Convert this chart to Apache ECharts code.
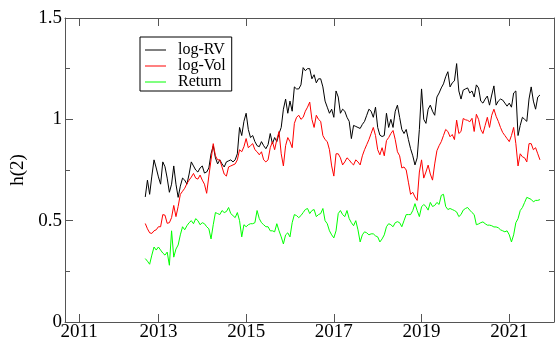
<!DOCTYPE html>
<html><head><meta charset="utf-8">
<script src="https://cdn.jsdelivr.net/npm/echarts@6/dist/echarts.min.js"></script>
<style>html,body{margin:0;padding:0;background:#fff}#c{width:555px;height:340px}</style>
</head><body><div id="c"></div>
<script>
// time axis: decimal years, first observation and spacing
const startYear = 2012.70;
const stepYear = 0.05;

const logRV = [
0.617,0.70,0.63,0.72,0.80,0.76,0.716,0.68,0.79,0.766,
0.71,0.64,0.68,0.77,0.68,0.615,0.67,0.71,0.70,0.68,
0.73,0.79,0.77,0.75,0.74,0.76,0.77,0.735,0.74,0.76,
0.83,0.87,0.81,0.78,0.80,0.78,0.765,0.79,0.795,0.80,
0.79,0.80,0.83,0.96,0.92,0.99,1.03,0.95,0.91,0.92,
0.89,0.87,0.865,0.89,0.87,0.855,0.875,0.93,0.88,0.91,
0.89,0.93,0.96,1.05,1.10,1.03,1.09,1.04,1.16,1.15,
1.15,1.17,1.255,1.24,1.25,1.25,1.20,1.22,1.18,1.20,
1.20,1.16,1.09,1.06,1.03,1.05,1.01,1.14,1.11,1.03,
1.05,1.04,1.01,0.99,0.905,0.97,0.965,0.96,0.955,0.975,
0.99,1.02,1.05,1.04,1.01,1.06,0.96,0.922,0.915,0.92,
1.03,0.96,1.00,0.96,1.04,1.07,1.01,0.95,0.93,0.95,
0.90,0.855,0.82,0.775,0.81,0.95,1.15,1.00,0.98,1.05,
1.07,1.04,1.02,1.11,1.13,1.155,1.175,1.21,1.235,1.16,
1.18,1.19,1.275,1.14,1.10,1.144,1.15,1.155,1.13,1.14,
1.11,1.17,1.155,1.09,1.08,1.10,1.115,1.07,1.12,1.165,
1.07,1.09,1.10,1.095,1.08,1.065,1.08,1.06,1.13,1.14,
0.92,0.97,1.01,1.00,0.99,1.10,1.16,1.09,1.05,1.11,1.12
];

const logVol = [
0.486,0.46,0.44,0.437,0.45,0.455,0.47,0.47,0.53,0.527,
0.487,0.49,0.515,0.575,0.52,0.57,0.63,0.645,0.66,0.683,
0.70,0.715,0.733,0.71,0.705,0.725,0.70,0.68,0.635,0.72,
0.80,0.88,0.82,0.80,0.80,0.765,0.73,0.72,0.765,0.77,
0.775,0.78,0.80,0.85,0.84,0.865,0.905,0.86,0.87,0.88,
0.85,0.84,0.825,0.84,0.80,0.79,0.80,0.86,0.89,0.85,
0.90,0.94,0.83,0.77,0.87,0.91,0.89,0.86,0.98,1.01,
1.02,1.00,1.01,1.04,1.06,1.085,1.00,0.96,1.02,1.00,
0.99,0.92,0.90,0.89,0.85,0.77,0.72,0.83,0.83,0.81,
0.775,0.79,0.81,0.80,0.785,0.775,0.80,0.79,0.775,0.82,
0.85,0.875,0.90,0.93,0.96,0.92,0.85,0.825,0.86,0.82,
0.895,0.91,0.93,0.945,0.90,0.84,0.82,0.76,0.765,0.75,
0.69,0.63,0.64,0.617,0.60,0.74,0.80,0.71,0.74,0.774,
0.73,0.70,0.78,0.845,0.87,0.89,0.92,0.95,0.94,0.914,
0.925,0.90,0.996,0.93,0.94,1.004,0.998,0.995,0.988,1.005,
0.94,1.025,1.00,0.95,0.93,0.97,1.01,0.96,1.02,1.05,
1.015,0.99,0.96,0.935,0.92,0.905,0.89,0.92,0.96,0.88,
0.77,0.83,0.815,0.81,0.79,0.88,0.88,0.85,0.86,0.83,0.80
];

const returnH = [
0.313,0.30,0.285,0.33,0.37,0.355,0.37,0.355,0.34,0.33,
0.345,0.28,0.45,0.32,0.36,0.38,0.43,0.47,0.455,0.475,
0.49,0.50,0.485,0.51,0.50,0.48,0.49,0.485,0.47,0.46,
0.41,0.48,0.54,0.535,0.53,0.55,0.54,0.545,0.565,0.535,
0.525,0.515,0.54,0.50,0.42,0.48,0.47,0.48,0.485,0.485,
0.49,0.55,0.51,0.49,0.48,0.47,0.47,0.45,0.45,0.445,
0.485,0.45,0.42,0.385,0.43,0.44,0.42,0.49,0.53,0.525,
0.515,0.525,0.54,0.555,0.56,0.535,0.55,0.555,0.52,0.53,
0.535,0.56,0.50,0.485,0.45,0.43,0.415,0.45,0.535,0.55,
0.53,0.52,0.55,0.51,0.49,0.475,0.50,0.455,0.395,0.43,
0.445,0.44,0.43,0.435,0.435,0.425,0.42,0.395,0.41,0.43,
0.47,0.485,0.48,0.47,0.49,0.495,0.49,0.47,0.50,0.53,
0.53,0.53,0.55,0.584,0.55,0.52,0.568,0.58,0.57,0.552,
0.59,0.57,0.575,0.59,0.58,0.625,0.63,0.57,0.555,0.56,
0.555,0.55,0.543,0.52,0.53,0.552,0.56,0.565,0.552,0.54,
0.53,0.48,0.484,0.49,0.494,0.485,0.478,0.478,0.475,0.469,
0.469,0.465,0.455,0.45,0.445,0.45,0.43,0.395,0.43,0.49,
0.51,0.55,0.565,0.59,0.615,0.61,0.605,0.593,0.60,0.60,0.604
];

const seriesNames = ['log-RV', 'log-Vol', 'Return'];
const seriesColors = ['#000000', '#ff0000', '#00ff00'];
const xTickValues = [2011.19, 2013, 2015, 2017, 2019, 2021];
const xTickLabels = ['2011', '2013', '2015', '2017', '2019', '2021'];
const yAxisName = 'h(2)';

const FONT = 'Liberation Serif';
const AX = '#555';

function toPairs(arr) { return arr.map((v, i) => [startYear + stepYear * i, v]); }
function xLabel(v) {
  let best = 0;
  for (let k = 1; k < xTickValues.length; k++) if (Math.abs(xTickValues[k] - v) < Math.abs(xTickValues[best] - v)) best = k;
  return xTickLabels[best];
}

const xBase = {
  type: 'value', min: 2010.87, max: 2022.02,
  axisLine: { show: true, onZero: false, lineStyle: { color: AX, width: 1 } },
  axisTick: { show: true, inside: true, length: 8, customValues: xTickValues, lineStyle: { color: AX, width: 1 } },
  splitLine: { show: false }, minorTick: { show: false }
};
const yBase = {
  type: 'value', min: 0, max: 1.5, interval: 0.5,
  axisLine: { show: true, onZero: false, lineStyle: { color: AX, width: 1 } },
  axisTick: { show: true, inside: true, length: 8, lineStyle: { color: AX, width: 1 } },
  minorTick: { show: true, splitNumber: 2, length: 5, lineStyle: { color: AX, width: 1 } },
  splitLine: { show: false }
};

const chart = echarts.init(document.getElementById('c'), null, { renderer: 'canvas' });
chart.setOption({
  animation: false,
  backgroundColor: '#ffffff',
  grid: { left: 65, right: 1, top: 18, bottom: 18, outerBoundsMode: 'none', containLabel: false },
  legend: {
    orient: 'vertical', left: 140, top: 37,
    data: seriesNames, icon: 'rect', itemWidth: 21, itemHeight: 1, itemGap: 0,
    padding: [5, 6, 1, 5], borderColor: '#000', borderWidth: 1, borderRadius: 0, backgroundColor: '#fff',
    textStyle: { fontFamily: FONT, fontSize: 16, color: '#000', lineHeight: 16, padding: [0, 0, 0, 7] },
    selectedMode: false
  },
  xAxis: [
    Object.assign({}, xBase, { position: 'bottom',
      axisLabel: { show: true, customValues: xTickValues, formatter: xLabel, fontFamily: FONT, fontSize: 19, color: '#000', margin: 1 } }),
    Object.assign({}, xBase, { position: 'top', axisLabel: { show: false } })
  ],
  yAxis: [
    Object.assign({}, yBase, { position: 'left', name: yAxisName, nameLocation: 'middle', nameGap: 31,
      nameTextStyle: { fontFamily: FONT, fontSize: 19, color: '#000' },
      axisLabel: { show: true, fontFamily: FONT, fontSize: 19, color: '#000', margin: 3 } }),
    Object.assign({}, yBase, { position: 'right', axisLabel: { show: false } })
  ],
  series: [logRV, logVol, returnH].map((arr, k) => ({
    name: seriesNames[k], type: 'line', data: toPairs(arr),
    showSymbol: false, symbol: 'none', color: seriesColors[k],
    lineStyle: { color: seriesColors[k], width: 1 }, itemStyle: { color: seriesColors[k] },
    xAxisIndex: 0, yAxisIndex: 0, silent: true
  }))
});
</script></body></html>
